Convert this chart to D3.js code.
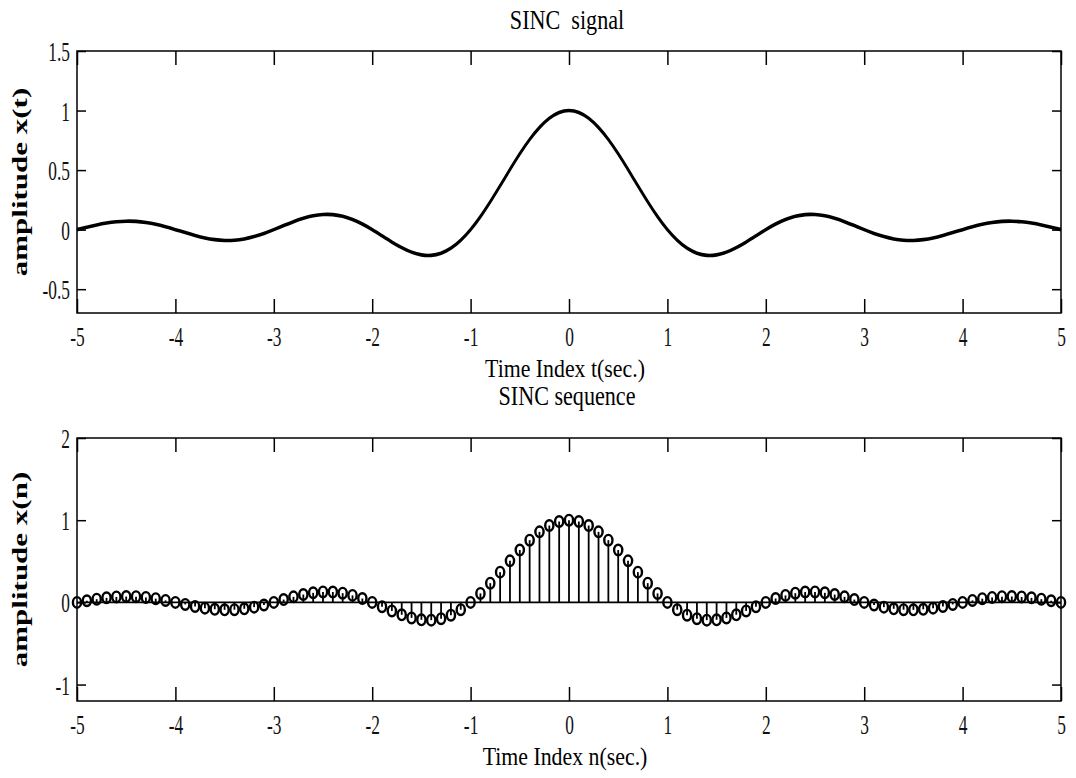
<!DOCTYPE html>
<html>
<head>
<meta charset="utf-8">
<script src="https://cdn.jsdelivr.net/npm/d3@7"></script>
<style>
  body { margin: 0; background: #fff; }
  svg { display: block; }
</style>
</head>
<body>
<div id="chart"></div>
<script>
// time index (sec.) and amplitude
const timeIndex = [
  -5.0, -4.9, -4.8, -4.7, -4.6, -4.5, -4.4, -4.3, -4.2, -4.1,
  -4.0, -3.9, -3.8, -3.7, -3.6, -3.5, -3.4, -3.3, -3.2, -3.1,
  -3.0, -2.9, -2.8, -2.7, -2.6, -2.5, -2.4, -2.3, -2.2, -2.1,
  -2.0, -1.9, -1.8, -1.7, -1.6, -1.5, -1.4, -1.3, -1.2, -1.1,
  -1.0, -0.9, -0.8, -0.7, -0.6, -0.5, -0.4, -0.3, -0.2, -0.1,
  0.0,
  0.1, 0.2, 0.3, 0.4, 0.5, 0.6, 0.7, 0.8, 0.9, 1.0,
  1.1, 1.2, 1.3, 1.4, 1.5, 1.6, 1.7, 1.8, 1.9, 2.0,
  2.1, 2.2, 2.3, 2.4, 2.5, 2.6, 2.7, 2.8, 2.9, 3.0,
  3.1, 3.2, 3.3, 3.4, 3.5, 3.6, 3.7, 3.8, 3.9, 4.0,
  4.1, 4.2, 4.3, 4.4, 4.5, 4.6, 4.7, 4.8, 4.9, 5.0
];
const amplitude = [
  0.000, 0.020, 0.039, 0.055, 0.066, 0.071, 0.069, 0.060, 0.045, 0.024,
  0.000, -0.025, -0.049, -0.070, -0.084, -0.091, -0.089, -0.078, -0.058, -0.032,
  0.000, 0.034, 0.067, 0.095, 0.116, 0.127, 0.126, 0.112, 0.085, 0.047,
  0.000, -0.052, -0.104, -0.151, -0.189, -0.212, -0.216, -0.198, -0.156, -0.089,
  0.000, 0.109, 0.234, 0.368, 0.505, 0.637, 0.757, 0.858, 0.935, 0.984,
  1.000,
  0.984, 0.935, 0.858, 0.757, 0.637, 0.505, 0.368, 0.234, 0.109, 0.000,
  -0.089, -0.156, -0.198, -0.216, -0.212, -0.189, -0.151, -0.104, -0.052, 0.000,
  0.047, 0.085, 0.112, 0.126, 0.127, 0.116, 0.095, 0.067, 0.034, 0.000,
  -0.032, -0.058, -0.078, -0.089, -0.091, -0.084, -0.070, -0.049, -0.025, 0.000,
  0.024, 0.045, 0.060, 0.069, 0.071, 0.066, 0.055, 0.039, 0.020, 0.000
];
const xTicks = [-5, -4, -3, -2, -1, 0, 1, 2, 3, 4, 5];
const yTicksSignal = [-0.5, 0, 0.5, 1, 1.5];
const yTicksSequence = [-1, 0, 1, 2];
const yDomainSignal = [-0.7, 1.5];
const yDomainSequence = [-1.2, 2];

const width = 1076, height = 778;
const left = 77, right = 1061;
const serif = "'Liberation Serif', 'Times New Roman', serif";
const tickScale = 0.62;

const svg = d3.select("#chart").append("svg")
  .attr("width", width)
  .attr("height", height);

const x = d3.scaleLinear().domain([-5, 5]).range([left, right]);
const data = timeIndex.map((t, i) => ({ t: t, v: amplitude[i] }));

function drawPanel(p) {
  const y = d3.scaleLinear().domain(p.yDomain).range([p.bottom, p.top]);
  const g = svg.append("g");

  // marks
  if (p.kind === "line") {
    const line = d3.line()
      .x(d => x(d.t))
      .y(d => y(d.v))
      .curve(d3.curveNatural);
    // two passes nudged up/down: flat parts look heavier, like the stretched original
    [-0.7, 0.7].forEach(off => {
      g.append("path")
        .datum(data)
        .attr("d", line)
        .attr("transform", `translate(0,${off})`)
        .attr("fill", "none")
        .attr("stroke", "#000")
        .attr("stroke-width", 2.2);
    });
  } else {
    g.append("line")
      .attr("x1", x(-5)).attr("x2", x(5))
      .attr("y1", y(0)).attr("y2", y(0))
      .attr("stroke", "#000")
      .attr("stroke-width", 1.8);
    g.selectAll(".stem")
      .data(data)
      .enter()
      .append("line")
      .attr("class", "stem")
      .attr("x1", d => x(d.t)).attr("x2", d => x(d.t))
      .attr("y1", y(0)).attr("y2", d => y(d.v))
      .attr("stroke", "#000")
      .attr("stroke-width", 1.8);
    g.selectAll(".marker")
      .data(data)
      .enter()
      .append("ellipse")
      .attr("class", "marker")
      .attr("cx", d => x(d.t))
      .attr("cy", d => y(d.v))
      .attr("rx", 4.1)
      .attr("ry", 5.3)
      .attr("fill", "none")
      .attr("stroke", "#000")
      .attr("stroke-width", 2.4);
  }

  // axes, ticks pointing inward on all four sides
  const fmt = d => String(d);
  const bottomAxis = g.append("g")
    .attr("transform", `translate(0,${p.bottom})`)
    .call(d3.axisBottom(x).tickValues(xTicks).tickSize(-14).tickFormat(fmt));
  const topAxis = g.append("g")
    .attr("transform", `translate(0,${p.top})`)
    .call(d3.axisTop(x).tickValues(xTicks).tickSize(-14).tickFormat(""));
  const leftAxis = g.append("g")
    .attr("transform", `translate(${left},0)`)
    .call(d3.axisLeft(y).tickValues(p.yTicks).tickSize(-9).tickFormat(fmt));
  const rightAxis = g.append("g")
    .attr("transform", `translate(${right},0)`)
    .call(d3.axisRight(y).tickValues(p.yTicks).tickSize(-9).tickFormat(""));

  [bottomAxis, topAxis, leftAxis, rightAxis].forEach(a => {
    a.select(".domain").remove();
    a.selectAll("line").attr("stroke", "#000").attr("stroke-width", 1.5);
    a.attr("font-family", serif).attr("font-size", 28);
  });

  bottomAxis.selectAll("text")
    .attr("fill", "#111")
    .attr("y", 33)
    .attr("dy", 0)
    .attr("transform", `scale(${tickScale},1)`);
  leftAxis.selectAll("text")
    .attr("fill", "#111")
    .attr("x", -7 / tickScale)
    .attr("dy", "0.34em")
    .attr("transform", `scale(${tickScale},1)`);

  // frame
  g.append("rect")
    .attr("x", left).attr("y", p.top)
    .attr("width", right - left).attr("height", p.bottom - p.top)
    .attr("fill", "none")
    .attr("stroke", "#000")
    .attr("stroke-width", 1.5);

  // title
  g.append("text")
    .attr("transform", `translate(${(left + right) / 2 - 2},${p.titleY}) scale(0.82,1)`)
    .attr("text-anchor", "middle")
    .attr("font-family", serif)
    .attr("font-size", 27)
    .style("white-space", "pre")
    .text(p.title);

  // x label
  g.append("text")
    .attr("transform", `translate(${(left + right) / 2 - 4},${p.bottom + 64}) scale(0.84,1)`)
    .attr("text-anchor", "middle")
    .attr("font-family", serif)
    .attr("font-size", 26)
    .text(p.xlabel);

  // y label
  g.append("text")
    .attr("transform", `translate(27,${(p.top + p.bottom) / 2}) rotate(-90) scale(1.55,1)`)
    .attr("text-anchor", "middle")
    .attr("font-family", serif)
    .attr("font-weight", "bold")
    .attr("font-size", 20)
    .text(p.ylabel);
}

drawPanel({
  kind: "line",
  top: 51, bottom: 313,
  yDomain: yDomainSignal, yTicks: yTicksSignal,
  title: "SINC  signal", titleY: 29,
  xlabel: "Time Index t(sec.)",
  ylabel: "amplitude x(t)"
});

drawPanel({
  kind: "stem",
  top: 438, bottom: 701,
  yDomain: yDomainSequence, yTicks: yTicksSequence,
  title: "SINC sequence", titleY: 405,
  xlabel: "Time Index n(sec.)",
  ylabel: "amplitude x(n)"
});
</script>
</body>
</html>
